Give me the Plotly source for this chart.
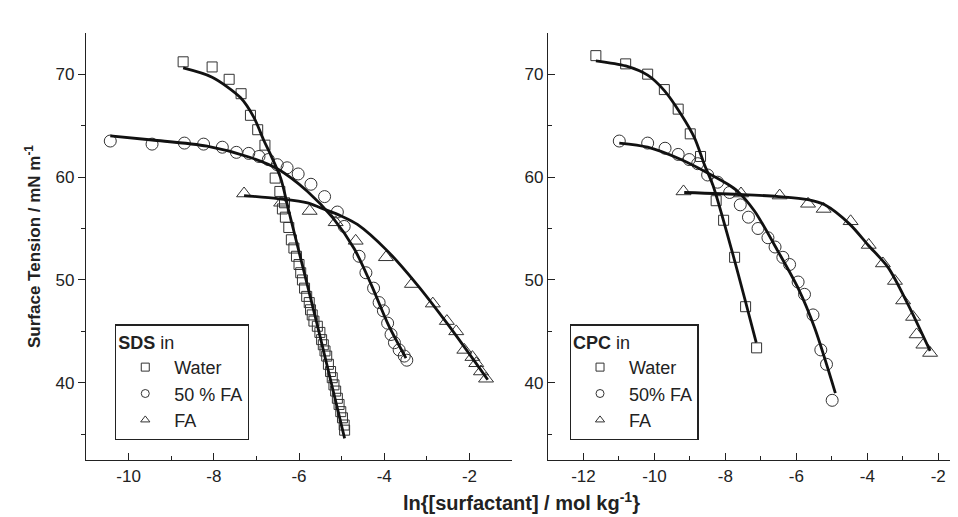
import plotly.graph_objects as go

# ---------------- SDS (left panel) ----------------
sds_water_x = [-8.72, -8.04, -7.64, -7.36, -7.14, -6.97, -6.80, -6.56, -6.45, -6.34,
               -6.39, -6.32, -6.24, -6.18, -6.12, -6.06, -6.00, -5.96, -5.92, -5.87,
               -5.82, -5.76, -5.73, -5.69, -5.65, -5.57, -5.51, -5.47, -5.43, -5.39,
               -5.35, -5.31, -5.26, -5.22, -5.18, -5.14, -5.10, -5.06, -5.02, -4.98,
               -4.94, -4.93]
sds_water_y = [71.2, 70.7, 69.5, 68.1, 66.0, 64.6, 63.1, 59.9, 58.6, 57.5,
               56.9, 56.1, 55.1, 53.9, 53.1, 52.3, 51.5, 50.7, 50.0, 49.2,
               48.4, 47.8, 47.1, 46.6, 46.0, 45.5, 44.9, 44.2, 43.7, 43.1,
               42.6, 41.8, 41.1, 40.5, 39.8, 39.2, 38.5, 37.9, 37.2, 36.6,
               35.9, 35.4]
sds_water_fit_x = [-8.72, -8.04, -7.37, -7.06, -6.82, -6.67, -6.43, -6.24, -5.57, -4.93]
sds_water_fit_y = [70.6, 69.7, 67.7, 65.8, 63.5, 62.2, 59.9, 56.7, 45.6, 34.6]

sds_50fa_x = [-10.43, -9.45, -8.69, -8.24, -7.80, -7.47, -7.18, -6.94, -6.72, -6.51,
              -6.28, -6.02, -5.72, -5.40, -5.10, -4.94, -4.59, -4.43, -4.25, -4.12,
              -4.02, -3.92, -3.84, -3.76, -3.65, -3.53, -3.47]
sds_50fa_y = [63.5, 63.2, 63.3, 63.2, 62.9, 62.4, 62.3, 62.0, 61.7, 61.2,
              60.9, 60.3, 59.3, 58.1, 56.6, 55.2, 52.3, 50.7, 49.2, 47.8,
              47.0, 45.8, 44.7, 43.9, 43.2, 42.6, 42.2]
sds_50fa_fit_x = [-10.43, -9.45, -8.16, -7.14, -6.51, -5.80, -5.20, -4.70, -4.30, -3.90, -3.49]
sds_50fa_fit_y = [64.0, 63.6, 63.0, 61.9, 60.8, 58.6, 56.0, 53.0, 49.5, 45.6, 42.4]

sds_fa_x = [-7.29, -6.42, -5.75, -5.14, -4.67, -3.96, -3.35, -2.86, -2.53, -2.31,
            -2.12, -1.93, -1.84, -1.73, -1.61]
sds_fa_y = [58.4, 57.5, 56.7, 55.6, 53.8, 52.2, 49.6, 47.7, 46.0, 45.0,
            43.2, 42.5, 41.9, 41.1, 40.4]
sds_fa_fit_x = [-7.29, -6.50, -5.80, -5.49, -5.00, -4.63, -3.92, -3.22, -2.51, -1.57]
sds_fa_fit_y = [58.2, 57.9, 57.5, 57.0, 56.2, 55.4, 52.8, 49.5, 45.7, 40.3]

# ---------------- CPC (right panel) ----------------
cpc_water_x = [-11.65, -10.81, -10.19, -9.72, -9.33, -8.99, -8.70, -8.26, -8.05, -7.74, -7.43, -7.12]
cpc_water_y = [71.8, 71.0, 70.0, 68.5, 66.6, 64.2, 62.0, 57.7, 55.8, 52.2, 47.4, 43.4]
cpc_water_fit_x = [-11.65, -10.81, -10.19, -9.72, -9.25, -8.87, -8.59, -8.35, -7.79, -7.13]
cpc_water_fit_y = [71.3, 70.8, 69.9, 68.4, 66.1, 63.8, 61.2, 59.2, 52.5, 43.9]

cpc_50fa_x = [-10.99, -10.19, -9.70, -9.33, -9.02, -8.78, -8.50, -8.22, -7.88, -7.58,
              -7.35, -7.08, -6.80, -6.60, -6.38, -6.19, -5.95, -5.77, -5.53, -5.31,
              -5.15, -4.99]
cpc_50fa_y = [63.5, 63.3, 62.8, 62.2, 61.7, 61.3, 60.2, 59.5, 58.5, 57.3,
              56.1, 55.0, 54.1, 53.2, 52.2, 51.5, 49.8, 48.6, 46.6, 43.2,
              41.8, 38.3]
cpc_50fa_fit_x = [-10.99, -10.19, -9.25, -8.50, -7.93, -7.65, -7.18, -6.52, -5.95, -5.48, -4.90]
cpc_50fa_fit_y = [63.3, 62.9, 61.7, 60.4, 59.3, 58.6, 56.7, 52.8, 49.2, 45.3, 39.0]

cpc_fa_x = [-9.18, -7.56, -6.47, -5.67, -5.23, -4.47, -3.96, -3.56, -3.22, -2.99,
            -2.71, -2.61, -2.42, -2.23]
cpc_fa_y = [58.6, 58.4, 58.2, 57.4, 56.9, 55.7, 53.4, 51.6, 49.9, 48.0,
            46.4, 44.7, 43.7, 42.9]
cpc_fa_fit_x = [-9.16, -7.50, -6.50, -5.67, -5.20, -4.49, -3.98, -3.41, -2.85, -2.23]
cpc_fa_fit_y = [58.5, 58.3, 58.1, 57.8, 57.3, 55.4, 53.4, 51.2, 47.6, 43.1]

# ---------------- tick labels & legend labels ----------------
x1_tickvals = [-10, -8, -6, -4, -2]
x1_ticktext = ["-10", "-8", "-6", "-4", "-2"]
x2_tickvals = [-12, -10, -8, -6, -4, -2]
x2_ticktext = ["-12", "-10", "-8", "-6", "-4", "-2"]
y_tickvals = [40, 50, 60, 70]
y_ticktext = ["40", "50", "60", "70"]

legend_labels_sds = ["Water", "50 % FA", "FA"]
legend_labels_cpc = ["Water", "50% FA", "FA"]
symbols = ["square-open", "circle-open", "triangle-up-open"]
sizes = [10, 12, 13]

FONT = "Arial, Liberation Sans, sans-serif"
MK = "#333333"
INK = "#222222"

fig = go.Figure()

panels = [
    ("x", "y", [(sds_water_x, sds_water_y, sds_water_fit_x, sds_water_fit_y),
                (sds_50fa_x, sds_50fa_y, sds_50fa_fit_x, sds_50fa_fit_y),
                (sds_fa_x, sds_fa_y, sds_fa_fit_x, sds_fa_fit_y)], legend_labels_sds, "legend"),
    ("x2", "y2", [(cpc_water_x, cpc_water_y, cpc_water_fit_x, cpc_water_fit_y),
                  (cpc_50fa_x, cpc_50fa_y, cpc_50fa_fit_x, cpc_50fa_fit_y),
                  (cpc_fa_x, cpc_fa_y, cpc_fa_fit_x, cpc_fa_fit_y)], legend_labels_cpc, "legend2"),
]

for xa, ya, series, labels, leg in panels:
    for i, (mx, my, fx, fy) in enumerate(series):
        fig.add_trace(go.Scatter(x=mx, y=my, mode="markers", xaxis=xa, yaxis=ya, showlegend=False,
                                 marker=dict(symbol=symbols[i], size=sizes[i], color=MK,
                                             line=dict(width=1, color=MK))))
    for i, (mx, my, fx, fy) in enumerate(series):
        fig.add_trace(go.Scatter(x=fx, y=fy, mode="lines", xaxis=xa, yaxis=ya, showlegend=False,
                                 line=dict(color="#111111", width=2.8, shape="spline", smoothing=0.8)))
    for i, lab in enumerate(labels):
        fig.add_trace(go.Scatter(x=[None], y=[None], mode="markers", xaxis=xa, yaxis=ya,
                                 name=lab, legend=leg, showlegend=True,
                                 marker=dict(symbol=symbols[i], size=8, color=MK,
                                             line=dict(width=1, color=MK))))

axis_common = dict(showline=True, linecolor=INK, linewidth=1.3, showgrid=False, zeroline=False,
                   mirror=False, tickfont=dict(family=FONT, size=17, color=INK),
                   tickcolor=INK, tickwidth=1.3)

legend_common = dict(xanchor="left", yanchor="top", bordercolor=INK, borderwidth=1.3,
                     bgcolor="white", font=dict(family=FONT, size=18, color=INK),
                     tracegroupgap=0, itemwidth=48)

fig.update_layout(
    width=958, height=517,
    margin=dict(l=78, r=10, t=25, b=65),
    paper_bgcolor="white", plot_bgcolor="white",
    font=dict(family=FONT, color=INK),
    xaxis=dict(domain=[0, 0.4897], range=[-11, -1], tickvals=x1_tickvals, ticktext=x1_ticktext,
               ticks="inside", ticklen=7,
               minor=dict(dtick=1, ticks="inside", ticklen=4, tickcolor=INK), anchor="y", **axis_common),
    yaxis=dict(domain=[0, 1], range=[32.5, 74], tickvals=y_tickvals, ticktext=y_ticktext,
               ticks="outside", ticklen=7,
               minor=dict(dtick=5, ticks="outside", ticklen=4, tickcolor=INK), anchor="x",
               title=dict(text="<b>Surface Tension / mN m<sup>-1</sup></b>",
                          font=dict(family=FONT, size=17, color=INK), standoff=10),
               **axis_common),
    xaxis2=dict(domain=[0.531, 1], range=[-13, -1.5], tickvals=x2_tickvals, ticktext=x2_ticktext,
                ticks="inside", ticklen=7,
                minor=dict(dtick=1, ticks="inside", ticklen=4, tickcolor=INK), anchor="y2", **axis_common),
    yaxis2=dict(domain=[0, 1], range=[32.5, 74], tickvals=y_tickvals, ticktext=y_ticktext,
                ticks="inside", ticklen=7,
                minor=dict(dtick=5, ticks="inside", ticklen=4, tickcolor=INK), anchor="x2",
                **axis_common),
    legend=dict(x=0.0333, y=0.318,
                title=dict(text="<b>SDS</b> in", font=dict(family=FONT, size=18, color=INK)),
                **legend_common),
    legend2=dict(x=0.556, y=0.318,
                 title=dict(text="<b>CPC</b> in", font=dict(family=FONT, size=18, color=INK)),
                 **legend_common),
    annotations=[dict(text="<b>ln{[surfactant] / mol kg<sup>-1</sup>}</b>", xref="paper", yref="paper",
                      x=0.5, y=-0.098, xanchor="center", yanchor="middle", showarrow=False,
                      font=dict(family=FONT, size=20, color=INK))],
)

fig.write_html("out.html")
